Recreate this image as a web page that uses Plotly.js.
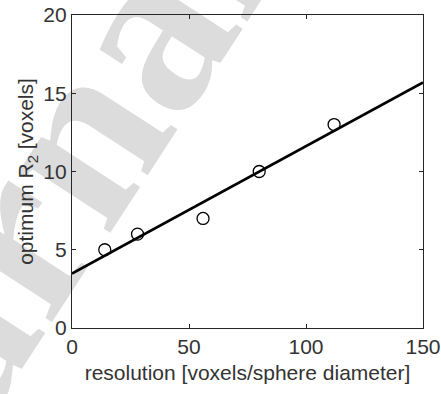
<!DOCTYPE html>
<html>
<head>
<meta charset="utf-8">
<script src="https://cdn.plot.ly/plotly-3.0.1.min.js"></script>
<style>
  html, body { margin: 0; padding: 0; background: #ffffff; }
  #wrap { position: relative; width: 441px; height: 394px; overflow: hidden; background: #ffffff; }
  #wm { position: absolute; left: 0; top: 0; width: 441px; height: 394px; overflow: hidden; z-index: 0; }
  #wmpivot { position: absolute; width: 0; height: 0; transform-origin: 0 0; }
  .wmpart { position: absolute; white-space: nowrap; font-family: "Liberation Serif", "DejaVu Serif", serif; font-weight: bold; font-size: 240px; line-height: 240px; color: #dcdcdc; }
  #chart { position: absolute; left: 0; top: 0; width: 441px; height: 394px; z-index: 1; }
</style>
</head>
<body>
<div id="wrap">
  <div id="wm"><div id="wmpivot"><span class="wmpart" id="wmA">Jour</span><span class="wmpart" id="wmB">nal Pre-proof</span></div></div>
  <div id="chart"></div>
</div>
<script>
// Data
const resolution = [14, 28, 56, 80, 112];
const optimumR2 = [5, 6, 7, 10, 13];
const fitX = [0, 150];
const fitY = [3.48, 15.69];
const xTicks = [0, 50, 100, 150];
const yTicks = [0, 5, 10, 15, 20];

// watermark placement (pivot at centre of the "n")
const pivot = document.getElementById('wmpivot');
pivot.style.left = '97px';
pivot.style.top = '152px';
pivot.style.transform = 'rotate(-57deg)';
const half = 67;
const topOff = -146;
const wA = document.getElementById('wmA');
wA.style.right = half + 'px';
wA.style.top = topOff + 'px';
const wB = document.getElementById('wmB');
wB.style.left = (-half) + 'px';
wB.style.top = topOff + 'px';

const fontFam = 'Liberation Sans, Arial, sans-serif';
const tickFont = {family: fontFam, size: 21, color: '#333333'};

const traces = [
  {
    x: fitX, y: fitY, type: 'scatter', mode: 'lines',
    line: {color: '#000000', width: 2.6}, hoverinfo: 'skip', showlegend: false
  },
  {
    x: resolution, y: optimumR2, type: 'scatter', mode: 'markers',
    marker: {symbol: 'circle-open', size: 12, color: '#000000', line: {width: 1.3, color: '#000000'}},
    showlegend: false
  }
];

const axisCommon = {
  showgrid: false, zeroline: false, showline: true, linecolor: '#262626', linewidth: 1.2,
  mirror: 'allticks', ticks: 'inside', ticklen: 4, tickwidth: 1, tickcolor: '#262626',
  tickfont: tickFont
};

const layout = {
  width: 441, height: 394,
  margin: {l: 72, r: 18, t: 15, b: 66},
  paper_bgcolor: 'rgba(0,0,0,0)', plot_bgcolor: 'rgba(0,0,0,0)',
  showlegend: false,
  xaxis: Object.assign({}, axisCommon, {
    range: [0, 150], tickmode: 'array', tickvals: xTicks, ticktext: xTicks.map(String),
    title: {text: 'resolution [voxels/sphere diameter]', font: {family: fontFam, size: 21, color: '#333333'}, standoff: 7}
  }),
  yaxis: Object.assign({}, axisCommon, {
    range: [0, 20], tickmode: 'array', tickvals: yTicks, ticktext: yTicks.map(String),
    title: {text: 'optimum R<sub>2</sub> [voxels]', font: {family: fontFam, size: 21, color: '#333333'}, standoff: 3}
  })
};

Plotly.newPlot('chart', traces, layout, {displayModeBar: false, staticPlot: true});
</script>
</body>
</html>
